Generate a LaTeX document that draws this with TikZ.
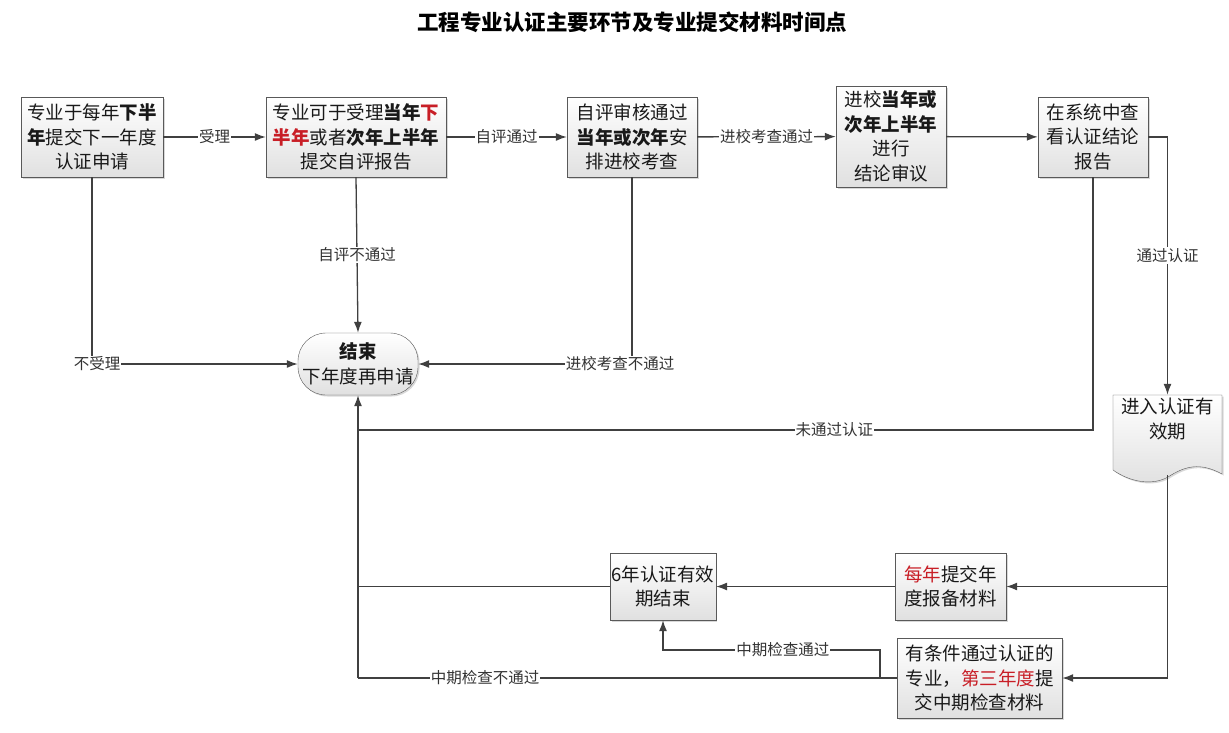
\documentclass[tikz,border=0pt]{standalone}
\usepackage{fontspec}
\setmainfont{Noto Sans CJK SC}
\usetikzlibrary{arrows.meta,shadows}
\definecolor{hired}{RGB}{200,30,38}
\definecolor{linegray}{RGB}{64,64,64}
\newcommand\boxfont{\fontsize{18.5}{24.5}\selectfont}
\newcommand\labfont{\fontsize{15.5}{18}\selectfont}
\newcommand\titlefont{\fontsize{21.5}{26}\selectfont\bfseries}
\newcommand\bt[1]{\textbf{#1}}
\newcommand\redt[1]{\textcolor{hired}{#1}}

\begin{document}
\begin{tikzpicture}[x=1pt,y=-1pt,>={Latex[length=11pt,width=8pt]},
      box/.style={draw=black!65, top color=white, bottom color=black!12, text=black!90, align=center, font=\boxfont, inner sep=1.5pt,
        drop shadow={shadow xshift=1.5pt,shadow yshift=-1.5pt,fill=black!30}},
      lab/.style={fill=white, font=\labfont, text=black!80, inner sep=1pt},
      line/.style={draw=linegray, line width=1.3pt}]
      \useasboundingbox (0,0) rectangle (1229,732);
      \node (title) [font=\titlefont] at (632,22) {工程专业认证主要环节及专业提交材料时间点};
      \node (apply) [box, minimum width=142pt, minimum height=80pt] at (92,137) {专业于每年\bt{下半}\\\bt{年}提交下一年度\\认证申请};
      \node (self) [box, minimum width=180pt, minimum height=80pt] at (356,137) {专业可于受理\bt{当年}\bt{\redt{下}}\\\bt{\redt{半年}}或者\bt{次年上半年}\\提交自评报告};
      \node (check) [box, minimum width=130pt, minimum height=80pt] at (632,137) {自评审核通过\\\bt{当年或次年}安\\排进校考查};
      \node (review) [box, minimum width=110pt, minimum height=101pt] at (891,136.5) {进校\bt{当年或}\\\bt{次年上半年}\\进行\\结论审议};
      \node (result) [box, minimum width=110pt, minimum height=80pt] at (1093,137) {在系统中查\\看认证结论\\报告};
      \node (finish) [box, rounded corners=28pt, minimum width=120pt, minimum height=62pt] at (358,364) {\bt{结束}\\下年度再申请};
      \draw[draw=black!65, top color=white, bottom color=black!12, drop shadow={shadow xshift=1.5pt,shadow yshift=-1.5pt,fill=black!30}]
        (1113,395) -- (1222,395) -- (1222,474) .. controls (1200,462) and (1185,466) .. (1168,477)
        .. controls (1152,486) and (1130,482) .. (1113,470) -- cycle;
      \node (doc) [minimum width=109pt, minimum height=80pt, inner sep=0pt] at (1167.5,435) {};
      \node (doctext) [font=\boxfont, text=black!90, align=center] at (1167.5,419) {进入认证有\\效期};
      \node (ended) [box, minimum width=104pt, minimum height=67pt] at (663,586.5) {6年认证有效\\期结束};
      \node (yearly) [box, minimum width=111pt, minimum height=67pt] at (950.5,586.5) {\redt{每年}提交年\\度报备材料};
      \node (midterm) [box, minimum width=165pt, minimum height=80pt] at (979.5,678) {有条件通过认证的\\专业，\redt{第三年度}提\\交中期检查材料};
      \coordinate (back) at (358,430);
      \coordinate (loop) at (358,678);
      \coordinate (mid1) at (880,678);
      \coordinate (mid2) at (880,650);
      \draw[line,->] (apply) -- node[lab] {受理} (self);
      \draw[line,->] (self) -- node[lab] {自评通过} (check);
      \draw[line,->] (check) -- node[lab] {进校考查通过} (review);
      \draw[line,->] (review) -- (result);
      \draw[line,->] (apply.south) |- node[lab, xshift=5pt] {不受理} (finish.west);
      \draw[line,->] (self.south) -- node[lab] {自评不通过} (finish.north);
      \draw[line,->] (check.south) |- node[lab, xshift=-12pt] {进校考查不通过} (finish.east);
      \draw[line,->] (result.east) -| node[lab, pos=0.73] {通过认证} (doc.north);
      \draw[line] (result.south) |- node[lab, pos=0.676] {未通过认证} (back);
      \draw[line,->] (loop) -- (finish.south);
      \draw[line,->] (doc.south) |- (midterm.east);
      \draw[line,->] (doc.south |- yearly.east) -- (yearly.east);
      \draw[line,->] (yearly) -- (ended);
      \draw[line] (ended.west) -- (ended.west -| loop);
      \draw[line] (midterm.west) -- node[lab, pos=0.764] {中期检查不通过} (loop);
      \draw[line,->] (mid1) -- (mid2) -| node[lab, pos=0.224] {中期检查通过} (ended.south);
\end{tikzpicture}
\end{document}
